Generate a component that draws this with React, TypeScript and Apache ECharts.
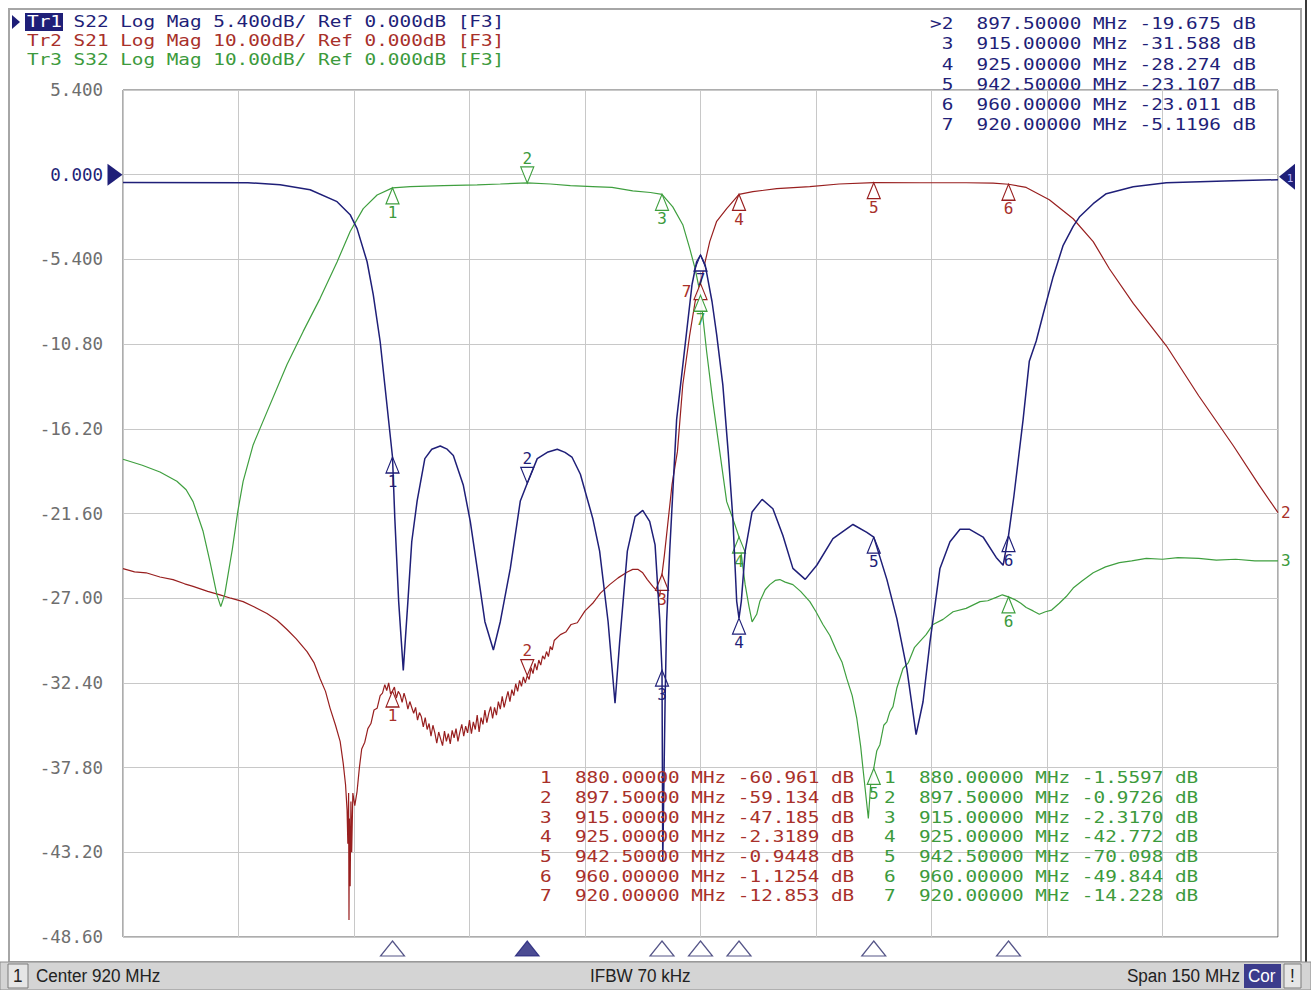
import React, { useEffect, useRef } from "react";
import * as echarts from "echarts";

// ---- stimulus ----
const START_MHZ = 845;
const SPAN_MHZ = 150;
const DIV_MHZ = 15;

// ---- response scales ----
const TR1_SCALE = 5.4; // dB/div (S22)
const TR23_SCALE = 10; // dB/div (S21, S32)
const REF_DIV_FROM_TOP = 1;
const N_DIV = 10;

// ---- Tr1 S22 ----
const s22Freq = [
  845.0, 861.2, 865.4, 869.3, 872.8, 874.5, 875.4, 876.7, 877.5, 878.4, 879.0, 880.0, 880.3, 880.8, 881.4,
  882.0, 882.5, 883.2, 884.2, 885.1, 886.2, 887.1, 887.9, 889.2, 890.1, 891.0, 892.0, 893.1, 894.0, 895.3,
  896.6, 897.5, 898.8, 900.1, 901.4, 902.4, 903.3, 904.4, 906.0, 906.9, 908.0, 908.9, 909.5, 910.5, 911.5,
  912.5, 913.4, 914.1, 914.7, 915.0, 915.1, 915.4, 915.6, 916.0, 916.9, 917.9, 918.9, 919.5, 920.0, 920.6,
  921.5, 922.1, 922.9, 923.6, 924.2, 924.7, 925.0, 925.3, 925.8, 926.7, 928.0, 929.4, 930.7, 932.0, 933.6,
  935.1, 937.2, 939.8, 941.6, 942.5, 944.2, 945.5, 946.8, 948.0, 948.9, 949.8, 951.1, 952.4, 953.7, 954.9,
  956.7, 958.4, 959.3, 960.0, 960.7, 961.9, 962.7, 963.6, 964.5, 965.8, 967.1, 968.4, 969.2, 971.0, 972.7,
  976.2, 980.5, 989.2, 995.0,
];
const s22Db = [
  -0.5, -0.51, -0.64, -0.96, -1.72, -2.55, -3.44, -5.55, -7.65, -10.65, -13.39, -18.0, -21.9, -27.2, -31.6,
  -27.2, -23.4, -20.8, -18.1, -17.5, -17.3, -17.5, -17.9, -19.8, -22.1, -25.1, -28.5, -30.3, -28.5, -25.1,
  -20.8, -19.675, -18.1, -17.7, -17.5, -17.7, -18.0, -19.1, -21.9, -24.0, -28.5, -33.7, -29.8, -24.0, -21.8,
  -21.4, -22.1, -23.6, -28.3, -31.588, -43.8, -33.6, -28.5, -24.0, -15.6, -11.3, -7.0, -5.55, -5.1196, -5.74,
  -8.1, -10.2, -13.4, -17.7, -21.9, -27.2, -28.274, -27.2, -24.0, -21.5, -20.7, -21.3, -23.0, -25.1, -25.8,
  -24.9, -23.2, -22.3, -22.8, -23.107, -25.8, -28.3, -31.5, -35.7, -33.6, -29.8, -25.1, -23.4, -22.6, -22.6,
  -23.1, -24.4, -24.9, -23.011, -20.5, -15.6, -11.9, -10.6, -8.9, -6.5, -4.5, -3.3, -2.7, -1.85, -1.21,
  -0.77, -0.51, -0.38, -0.32,
];

// ---- Tr2 S21 ----
const s21Freq = [
  845.0, 846.5, 848.0, 849.8, 851.5, 853.0, 854.1, 856.0, 857.6, 859.0, 860.6, 862.0, 863.7, 865.0, 866.3,
  867.5, 868.9, 869.8, 870.6, 871.3, 871.9, 872.6, 873.2, 873.6, 873.9, 874.1, 874.2, 874.3, 874.35, 874.4,
  874.5, 874.6, 874.7, 874.85, 875.1, 875.4, 875.7, 876.0, 876.4, 876.8, 877.2, 877.6, 878.0, 878.4, 878.7,
  879.0, 879.25, 879.5, 879.75, 880.0, 880.25, 880.5, 880.75, 881.0, 881.25, 881.5, 881.75, 882.0, 882.25,
  882.5, 882.75, 883.0, 883.25, 883.5, 883.75, 884.0, 884.25, 884.5, 884.75, 885.0, 885.25, 885.5, 885.75,
  886.0, 886.25, 886.5, 886.75, 887.0, 887.25, 887.5, 887.75, 888.0, 888.25, 888.5, 888.75, 889.0, 889.25,
  889.5, 889.75, 890.0, 890.25, 890.5, 890.75, 891.0, 891.25, 891.5, 891.75, 892.0, 892.25, 892.5, 892.75,
  893.0, 893.25, 893.5, 893.75, 894.0, 894.25, 894.5, 894.75, 895.0, 895.25, 895.5, 895.75, 896.0, 896.25,
  896.5, 896.75, 897.0, 897.25, 897.5, 897.75, 898.0, 898.25, 898.5, 898.75, 899.0, 899.25, 899.5, 899.75,
  900.0, 900.25, 900.5, 900.75, 901.0, 901.8, 902.5, 903.2, 904.0, 905.0, 906.0, 907.0, 908.2, 909.3, 910.5,
  911.2, 911.9, 912.5, 913.1, 913.8, 914.4, 914.7, 915.0, 915.3, 915.6, 916.3, 917.0, 917.7, 918.6, 919.3,
  920.0, 920.6, 921.2, 922.1, 923.4, 925.0, 926.8, 929.9, 934.2, 938.0, 942.5, 948.5, 954.5, 958.0, 960.0,
  962.3, 965.3, 968.4, 971.0, 973.1, 976.2, 980.5, 984.7, 989.2, 992.5, 995.0,
];
const s21Db = [
  -46.5, -46.9, -47.0, -47.5, -47.8, -48.3, -48.6, -49.2, -49.6, -50.0, -50.4, -51.0, -51.8, -52.6, -53.7,
  -54.8, -56.3, -57.6, -59.5, -61.0, -63.0, -65.0, -66.9, -69.5, -72.0, -75.0, -79.0, -73.0, -88.0, -76.0,
  -84.0, -74.0, -80.0, -73.0, -74.5, -72.8, -70.0, -67.8, -67.0, -65.4, -64.8, -63.2, -63.0, -61.5, -61.2,
  -60.2, -60.9, -60.0, -61.3, -60.961, -60.5, -61.8, -61.0, -61.4, -62.3, -61.2, -62.0, -63.1, -62.2,
  -62.9, -63.6, -62.9, -64.4, -63.5, -64.0, -65.2, -64.1, -65.5, -64.8, -66.3, -65.0, -65.9, -67.1,
  -65.8, -66.6, -67.4, -65.7, -66.9, -66.0, -67.2, -65.6, -66.5, -65.4, -66.9, -65.8, -64.9, -66.3,
  -65.1, -65.9, -64.4, -66.0, -64.6, -65.5, -63.8, -65.8, -64.1, -64.9, -63.2, -64.7, -63.6, -62.8,
  -64.2, -62.9, -63.8, -62.2, -63.1, -61.6, -62.9, -61.9, -61.0, -62.2, -60.8, -61.5, -60.1, -61.0,
  -59.7, -60.4, -59.3, -60.0, -59.134, -59.6, -58.2, -58.9, -57.7, -58.5, -57.3, -57.9, -56.8, -57.2,
  -56.3, -56.9, -55.7, -56.1, -55.0, -54.3, -54.0, -53.1, -52.9, -51.5, -50.6, -49.4, -48.4, -47.6, -46.9,
  -46.6, -46.6, -47.0, -47.8, -48.6, -49.2, -49.8, -47.185, -45.0, -42.5, -36.6, -32.7, -24.8, -18.9, -15.0,
  -12.853, -10.3, -7.9, -5.5, -4.0, -2.3189, -2.0, -1.65, -1.4, -1.1, -0.9448, -0.95, -0.95, -1.0, -1.1254,
  -1.5, -2.95, -5.2, -7.9, -11.1, -15.2, -20.2, -26.1, -32.0, -36.6, -39.9,
];

// ---- Tr3 S32 ----
const s32Freq = [
  845.0, 847.5, 849.8, 852.0, 853.2, 854.1, 855.4, 856.3, 857.2, 857.7, 858.2, 859.2, 859.9, 860.6, 861.9,
  863.7, 866.3, 868.4, 870.6, 872.8, 874.5, 876.2, 878.0, 880.0, 882.3, 886.6, 891.0, 894.0, 897.5, 900.5,
  903.1, 906.0, 908.5, 911.2, 913.5, 915.0, 916.4, 917.7, 918.6, 919.3, 920.0, 920.8, 921.6, 922.5, 923.4,
  924.2, 925.0, 925.8, 926.3, 926.7, 927.3, 927.7, 928.4, 929.0, 929.7, 930.3, 931.0, 932.0, 933.0, 934.2,
  935.0, 935.9, 936.8, 937.7, 938.4, 939.0, 939.7, 940.3, 940.8, 941.1, 941.5, 941.8, 942.1, 942.5, 942.9,
  943.3, 943.8, 944.2, 944.6, 945.0, 945.5, 946.3, 947.0, 947.8, 948.5, 949.3, 950.2, 951.5, 952.8, 954.5,
  956.3, 957.3, 958.4, 959.2, 960.0, 960.9, 961.6, 962.3, 963.2, 964.0, 964.8, 965.6, 966.6, 967.5, 968.4,
  969.5, 971.0, 972.6, 974.4, 976.0, 977.9, 980.0, 982.0, 984.7, 987.0, 989.5, 992.0, 995.0,
];
const s32Db = [
  -33.6, -34.3, -35.1, -36.2, -37.2, -38.6, -42.1, -45.7, -49.6, -51.0, -49.6, -44.2, -39.8, -36.2, -31.9,
  -28.0, -22.4, -18.5, -14.6, -10.3, -6.7, -4.0, -2.4, -1.5597, -1.4, -1.3, -1.2, -1.1, -0.9726, -1.1,
  -1.3, -1.4, -1.5, -1.9, -2.1, -2.317, -3.8, -5.9, -8.7, -11.1, -14.228, -20.9, -26.8, -32.7, -38.6,
  -40.6, -42.772, -48.4, -51.0, -52.8, -51.9, -50.4, -49.0, -48.4, -47.9, -47.8, -48.1, -48.4, -49.2, -50.4,
  -51.6, -53.1, -54.4, -56.3, -57.6, -59.5, -61.5, -64.2, -67.5, -70.1, -73.5, -76.0, -72.0, -70.098, -68.0,
  -67.3, -65.0, -64.6, -63.4, -62.8, -60.6, -58.3, -57.6, -55.8, -55.1, -54.3, -53.1, -52.5, -51.6, -51.2,
  -50.4, -50.3, -49.9, -49.6, -49.844, -50.2, -50.6, -51.1, -51.5, -51.9, -51.6, -51.4, -50.6, -49.8, -48.8,
  -48.0, -47.0, -46.3, -45.8, -45.6, -45.3, -45.4, -45.2, -45.3, -45.5, -45.4, -45.6, -45.6,
];

// ---- markers ----
const markerNames = ["1", "2", "3", "4", "5", "6", "7"];
const markerFreqs = [880, 897.5, 915, 925, 942.5, 960, 920];
const s22MarkerDb = [-18.0, -19.675, -31.588, -28.274, -23.107, -23.011, -5.1196];
const s21MarkerDb = [-60.961, -59.134, -47.185, -2.3189, -0.9448, -1.1254, -12.853];
const s32MarkerDb = [-1.5597, -0.9726, -2.317, -42.772, -70.098, -49.844, -14.228];
const ACTIVE = 1; // marker 2 is active

// ---- header / status texts ----
const headerRows = [
  { tr: "Tr1", rest: "S22 Log Mag 5.400dB/ Ref 0.000dB [F3]" },
  { tr: "Tr2", rest: "S21 Log Mag 10.00dB/ Ref 0.000dB [F3]" },
  { tr: "Tr3", rest: "S32 Log Mag 10.00dB/ Ref 0.000dB [F3]" },
];
const statusLeft = "Center 920 MHz";
const statusMid = "IFBW 70 kHz";
const statusRight = "Span 150 MHz";

// ---- styles ----
const NAVY = "#1f1f78";
const RED = "#981f1f";
const RED_TXT = "#a8302a";
const GREEN = "#3f9f3f";
const GREEN_TXT = "#3c9a3c";
const GRID = "#c8c8c8";
const MONO = "'DejaVu Sans Mono', 'Liberation Mono', monospace";
const FONT_PX = 15;
const CHAR_W = 11.65;
const SX = CHAR_W / (FONT_PX * 0.602);

const W = 1311;
const H = 990;
const PLOT = { left: 123, top: 90, width: 1155, height: 847 };

function fmtDb(v: number) {
  return Math.abs(v) >= 10 ? v.toFixed(3) : v.toFixed(4);
}
function fmtRow(name: string, f: number, db: number) {
  return name.padStart(2, " ") + "  " + f.toFixed(5) + " MHz " + fmtDb(db).padStart(7, " ") + " dB";
}
function monoText(x: number, y: number, text: string, fill: string) {
  return {
    type: "text",
    x,
    y,
    scaleX: SX,
    z: 100,
    silent: true,
    style: { text, fill, fontSize: FONT_PX, fontFamily: MONO, align: "left", verticalAlign: "middle" },
  };
}
function sansText(x: number, y: number, text: string, fill: string, align = "left") {
  return {
    type: "text",
    x,
    y,
    scaleX: 0.9,
    z: 100,
    silent: true,
    style: { text, fill, fontSize: 19, fontFamily: "'Liberation Sans', Arial, sans-serif", align, verticalAlign: "middle" },
  };
}
const toXY = (freqs: number[], dbs: number[]) => freqs.map((f, i) => [f - START_MHZ, dbs[i]]);

// labelPos7: where the crowded marker-7 label goes for this trace
function traceMarkers(dbs: number[], color: string, txt: string, labelPos7: string) {
  return markerFreqs.map((f, i) => {
    const active = i === ACTIVE;
    const pos = active ? "top" : i === 6 ? labelPos7 : "bottom";
    return {
      coord: [f - START_MHZ, dbs[i]],
      symbol: "triangle",
      symbolSize: [13, 16],
      symbolRotate: active ? 180 : 0,
      symbolOffset: [0, active ? -8 : 8],
      itemStyle: { color: "rgba(255,255,255,0.9)", borderColor: color, borderWidth: 1.2 },
      label: {
        show: true,
        formatter: markerNames[i],
        position: pos,
        distance: pos === "left" || pos === "right" ? 2 : 0,
        color: txt,
        fontSize: 16,
        fontFamily: MONO,
      },
    };
  });
}

function buildOption() {
  const tr1Max = REF_DIV_FROM_TOP * TR1_SCALE;
  const tr1Min = -(N_DIV - REF_DIV_FROM_TOP) * TR1_SCALE;
  const tr23Max = REF_DIV_FROM_TOP * TR23_SCALE;
  const tr23Min = -(N_DIV - REF_DIV_FROM_TOP) * TR23_SCALE;

  const graphic: any[] = [];
  // outer frame
  graphic.push({ type: "rect", z: 1, silent: true, shape: { x: 9, y: 9, width: 1292, height: 953 }, style: { fill: "none", stroke: "#a6a6a6", lineWidth: 2 } });
  graphic.push({ type: "line", z: 1, silent: true, shape: { x1: 1306, y1: 0, x2: 1306, y2: 962 }, style: { stroke: "#3a3a3a", lineWidth: 2 } });

  // header
  graphic.push({ type: "polygon", z: 100, silent: true, shape: { points: [[12, 15], [20, 22], [12, 29]] }, style: { fill: NAVY } });
  graphic.push({ type: "rect", z: 99, silent: true, shape: { x: 25, y: 13, width: 38, height: 18 }, style: { fill: NAVY } });
  const headColors = [NAVY, RED_TXT, GREEN_TXT];
  headerRows.forEach((r, i) => {
    const y = 22 + i * 19;
    graphic.push(monoText(27, y, r.tr, i === 0 ? "#ffffff" : headColors[i]));
    graphic.push(monoText(27 + 4 * CHAR_W, y, r.rest, headColors[i]));
  });

  // Tr1 marker table (top right, rows 2..7)
  for (let i = 1; i < markerNames.length; i++) {
    const name = (i === ACTIVE ? ">" : "") + markerNames[i];
    graphic.push(monoText(930, 24 + (i - 1) * 20.2, fmtRow(name, markerFreqs[i], s22MarkerDb[i]), NAVY));
  }
  // Tr2 / Tr3 marker tables (bottom)
  for (let i = 0; i < markerNames.length; i++) {
    const y = 778 + i * 19.7;
    graphic.push(monoText(540 - CHAR_W, y, fmtRow(markerNames[i], markerFreqs[i], s21MarkerDb[i]), RED_TXT));
    graphic.push(monoText(884 - CHAR_W, y, fmtRow(markerNames[i], markerFreqs[i], s32MarkerDb[i]), GREEN_TXT));
  }

  // status bar
  graphic.push({ type: "rect", z: 50, silent: true, shape: { x: 0, y: 962, width: W, height: 28 }, style: { fill: "#d4d4d4", stroke: "#8c8c8c", lineWidth: 1 } });
  graphic.push({ type: "rect", z: 51, silent: true, shape: { x: 8, y: 964, width: 20, height: 24 }, style: { fill: "#e6e6e6", stroke: "#7a7a7a", lineWidth: 1 } });
  graphic.push(sansText(13, 976, "1", "#222"));
  graphic.push(sansText(36, 976, statusLeft, "#222"));
  graphic.push(sansText(590, 976, statusMid, "#222"));
  graphic.push(sansText(1240, 976, statusRight, "#222", "right"));
  graphic.push({ type: "rect", z: 51, silent: true, shape: { x: 1244, y: 964, width: 37, height: 24 }, style: { fill: "#3c3c8c" } });
  graphic.push(sansText(1248, 976, "Cor", "#ffffff"));
  graphic.push({ type: "rect", z: 51, silent: true, shape: { x: 1284, y: 964, width: 17, height: 24 }, style: { fill: "#e6e6e6", stroke: "#7a7a7a", lineWidth: 1 } });
  graphic.push(sansText(1290, 976, "!", "#222"));

  const s22Marks: any[] = traceMarkers(s22MarkerDb, NAVY, NAVY, "bottom");
  // reference-level arrows of Tr1
  s22Marks.push({
    coord: [0, 0], symbol: "triangle", symbolSize: [22, 15], symbolRotate: -90, symbolOffset: [-8, 0],
    itemStyle: { color: NAVY, borderWidth: 0 }, label: { show: false },
  });
  s22Marks.push({
    coord: [SPAN_MHZ, 0], symbol: "triangle", symbolSize: [26, 16], symbolRotate: 90, symbolOffset: [9, 2],
    itemStyle: { color: NAVY, borderWidth: 0 },
    label: { show: true, formatter: "1", position: "inside", offset: [3, 2], color: "#b8b8ff", fontSize: 11, fontFamily: MONO },
  });

  return {
    animation: false,
    backgroundColor: "#ffffff",
    graphic,
    grid: [
      { left: PLOT.left, top: PLOT.top, width: PLOT.width, height: PLOT.height, show: true, borderColor: "#5a5a5a", borderWidth: 1, backgroundColor: "#ffffff" },
      { left: PLOT.left, top: PLOT.top + PLOT.height, width: PLOT.width, height: 23, show: false },
    ],
    xAxis: [
      {
        type: "value", gridIndex: 0, min: 0, max: SPAN_MHZ, interval: DIV_MHZ,
        axisLine: { show: false }, axisTick: { show: false }, axisLabel: { show: false },
        splitLine: { show: true, lineStyle: { color: GRID, width: 1 } },
      },
      { type: "value", gridIndex: 1, min: 0, max: SPAN_MHZ, show: false },
    ],
    yAxis: [
      {
        type: "value", gridIndex: 0, min: tr1Min, max: tr1Max, interval: TR1_SCALE,
        axisLine: { show: false }, axisTick: { show: false },
        splitLine: { show: true, lineStyle: { color: GRID, width: 1 } },
        axisLabel: {
          show: true, showMinLabel: true, showMaxLabel: true, margin: 20,
          fontSize: 17.5, fontFamily: MONO,
          color: (v: any) => (Math.abs(Number(v)) < 1e-9 ? NAVY : "#6e6e6e"),
          formatter: (v: number) => (Math.abs(v) < 1e-9 ? "0.000" : Math.abs(v) < 10 ? v.toFixed(3) : v.toFixed(2)),
        },
      },
      { type: "value", gridIndex: 0, min: tr23Min, max: tr23Max, interval: TR23_SCALE, show: false, splitLine: { show: false } },
      { type: "value", gridIndex: 1, min: 0, max: 1, show: false },
    ],
    series: [
      {
        name: "S21", type: "line", xAxisIndex: 0, yAxisIndex: 1, data: toXY(s21Freq, s21Db),
        symbol: "none", showSymbol: false, lineStyle: { color: RED, width: 1.2 }, itemStyle: { color: RED },
        endLabel: { show: true, formatter: "2", color: RED_TXT, fontSize: 16, fontFamily: MONO, distance: 3 },
        markPoint: { silent: true, data: traceMarkers(s21MarkerDb, RED, RED_TXT, "left") },
        z: 3,
      },
      {
        name: "S32", type: "line", xAxisIndex: 0, yAxisIndex: 1, data: toXY(s32Freq, s32Db),
        symbol: "none", showSymbol: false, lineStyle: { color: GREEN, width: 1.2 }, itemStyle: { color: GREEN },
        endLabel: { show: true, formatter: "3", color: GREEN_TXT, fontSize: 16, fontFamily: MONO, distance: 3 },
        markPoint: { silent: true, data: traceMarkers(s32MarkerDb, GREEN, GREEN_TXT, "bottom") },
        z: 4,
      },
      {
        name: "S22", type: "line", xAxisIndex: 0, yAxisIndex: 0, data: toXY(s22Freq, s22Db),
        symbol: "none", showSymbol: false, lineStyle: { color: NAVY, width: 1.5 }, itemStyle: { color: NAVY },
        markPoint: { silent: true, data: s22Marks },
        z: 5,
      },
      {
        name: "stimulus markers", type: "scatter", xAxisIndex: 1, yAxisIndex: 2, silent: true,
        symbol: "triangle", symbolSize: [24, 15],
        data: markerFreqs.map((f, i) => ({
          value: [f - START_MHZ, 0.5],
          itemStyle: i === ACTIVE ? { color: NAVY, borderColor: NAVY, borderWidth: 1 } : { color: "#ffffff", borderColor: "#2a2a6a", borderWidth: 1.2 },
        })),
        z: 6,
      },
    ],
  };
}

export default function App() {
  const ref = useRef<HTMLDivElement>(null);
  useEffect(() => {
    const chart = echarts.init(ref.current as HTMLDivElement, null, { renderer: "svg" });
    chart.setOption(buildOption() as any);
    return () => chart.dispose();
  }, []);
  return (
    <div
      ref={ref}
      style={{ position: "absolute", left: 0, top: 0, width: W, height: H, background: "#ffffff" }}
    />
  );
}
